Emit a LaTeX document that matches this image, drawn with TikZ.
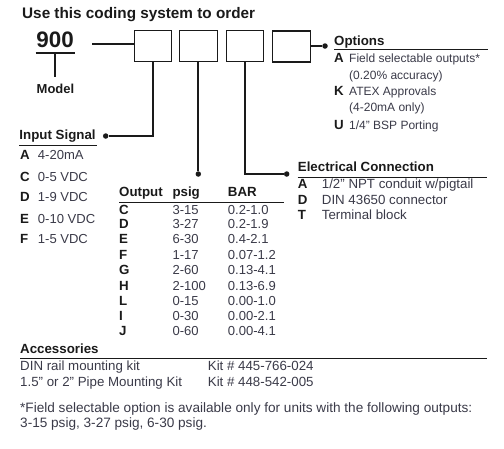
\documentclass[tikz,border=0pt]{standalone}
\usepackage{fontspec}
\setmainfont{Liberation Sans}
\definecolor{txt}{HTML}{3A3A48}
\definecolor{ink}{HTML}{1A1A1A}
\begin{document}
\begin{tikzpicture}[x=1pt,y=-1pt,
  lbl/.style={inner sep=0pt,anchor=base west,text=txt,font=\fontsize{13.3}{15}\selectfont},
  lblS/.style={lbl,font=\fontsize{13.05}{15}\selectfont},
  lblO/.style={lbl,font=\fontsize{12}{14}\selectfont},
  lblF/.style={lbl,font=\fontsize{13.6}{15}\selectfont},
  hdr/.style={inner sep=0pt,anchor=base west,text=ink,font=\fontsize{13.3}{15}\selectfont\bfseries},
  codebox/.style={draw=ink,line width=1.1pt,minimum width=37.5pt,minimum height=31pt,inner sep=0pt},
  conn/.style={draw=ink,line width=2pt},
  rule/.style={draw=ink,line width=1pt},
  dot/.style={circle,fill=ink,inner sep=0pt,minimum size=5.5pt}]
\useasboundingbox (0,0) rectangle (504,448);
% title
\node[hdr,font=\fontsize{15.3}{17}\selectfont\bfseries] (title) at (22,18) {Use this coding system to order};
% model
\node[hdr,font=\fontsize{22.4}{24}\selectfont\bfseries] (n900) at (36.2,47.7) {900};
\draw[rule,line width=2pt] (35.7,52.7) coordinate (u1) -- (75,52.7) coordinate (u2);
\coordinate (mtop) at (54.5,52.7);
\node[hdr,font=\fontsize{13}{15}\selectfont\bfseries] (model) at (36.5,93) {Model};
\draw[conn] (mtop) -- (54.5,77);
% boxes
\node[codebox] (b1) at (152.9,46.2) {};
\node[codebox] (b2) at (198.3,46.2) {};
\node[codebox] (b3) at (245.1,46.2) {};
\node[codebox] (b4) at (291.5,46.5) {};
\coordinate (c900) at (92.3,44.3);
\draw[conn] (c900) -- (b1.west |- c900);
% dots
\node[dot] (dIn) at (105.7,136) {};
\node[dot] (dOut) at (198.3,174) {};
\node[dot] (dEl) at (286.7,174) {};
\node[dot] (dOpt) at (325,46) {};
\draw[conn] (b1.south) |- (dIn);
\draw[conn] (b2.south) -- (dOut);
\draw[conn] (b3.south) |- (dEl);
\draw[conn] (b4.east |- dOpt) -- (dOpt);
% Input signal
\node[hdr] (inHead) at (19.3,139) {Input Signal};
\draw[rule] (19,145) -- (97,145);
\foreach \y/\k/\v [count=\i] in {159.3/A/4-20mA,181/C/0-5 VDC,201.7/D/1-9 VDC,223/E/0-10 VDC,243.3/F/1-5 VDC}{
  \node[hdr] (inK\i) at (20,\y) {\k};
  \node[lblS] (inV\i) at (37.7,\y) {\v};
}
% Options
\node[hdr] (optHead) at (334,45) {Options};
\draw[rule] (334,49.3) -- (487.7,49.3);
\node[hdr] (optKA) at (334,62.7) {A};
\node[lblO] (optVA) at (349,62.7) {Field selectable outputs*};
\node[lblO] (optVA2) at (349,79) {(0.20\% accuracy)};
\node[hdr] (optKK) at (334,95) {K};
\node[lblO] (optVK) at (349,95) {ATEX Approvals};
\node[lblO] (optVK2) at (349,111.7) {(4-20mA only)};
\node[hdr] (optKU) at (334,129.3) {U};
\node[lblO] (optVU) at (349,129.3) {1/4" BSP Porting};
% Electrical
\node[hdr] (elHead) at (297.7,171) {Electrical Connection};
\draw[rule] (297.7,177.3) -- (486.7,177.3);
\node[hdr] (elK1) at (297.7,188.3) {A};
\node[lbl] (elV1) at (321.7,188.3) {1/2" NPT conduit w/pigtail};
\node[hdr] (elK2) at (297.7,204.3) {D};
\node[lbl] (elV2) at (321.7,204.3) {DIN 43650 connector};
\node[hdr] (elK3) at (297.7,219) {T};
\node[lbl] (elV3) at (321.7,219) {Terminal block};
% Output table
\node[hdr] (tO) at (119,196.7) {Output};
\node[hdr] (tP) at (172.3,196.7) {psig};
\node[hdr] (tB) at (227.7,196.7) {BAR};
\draw[rule] (119,202.3) -- (284,202.3);
\foreach \y/\k/\p/\b [count=\i] in {214.3/C/3-15/0.2-1.0,228.3/D/3-27/0.2-1.9,243.7/E/6-30/0.4-2.1,259.3/F/1-17/0.07-1.2,274.3/G/2-60/0.13-4.1,290/H/2-100/0.13-6.9,305/L/0-15/0.00-1.0,320/I/0-30/0.00-2.1,335.7/J/0-60/0.00-4.1}{
  \node[hdr] (tK\i) at (119,\y) {\k};
  \node[lblS] (tP\i) at (172.3,\y) {\p};
  \node[lblS] (tB\i) at (227.7,\y) {\b};
}
% Accessories
\node[hdr] (accHead) at (20,353.3) {Accessories};
\draw[rule] (20,358.3) -- (486.7,358.3);
\node[lbl] (acc1) at (20,370.7) {DIN rail mounting kit};
\node[lbl] (acc1k) at (207.7,370.7) {Kit \# 445-766-024};
\node[lbl] (acc2) at (20,386.7) {1.5" or 2" Pipe Mounting Kit};
\node[lbl] (acc2k) at (207.7,386.7) {Kit \# 448-542-005};
\node[lblF] (foot1) at (20,412.3) {*Field selectable option is available only for units with the following outputs:};
\node[lblF] (foot2) at (20,427.7) {3-15 psig, 3-27 psig, 6-30 psig.};
\end{tikzpicture}
\end{document}
